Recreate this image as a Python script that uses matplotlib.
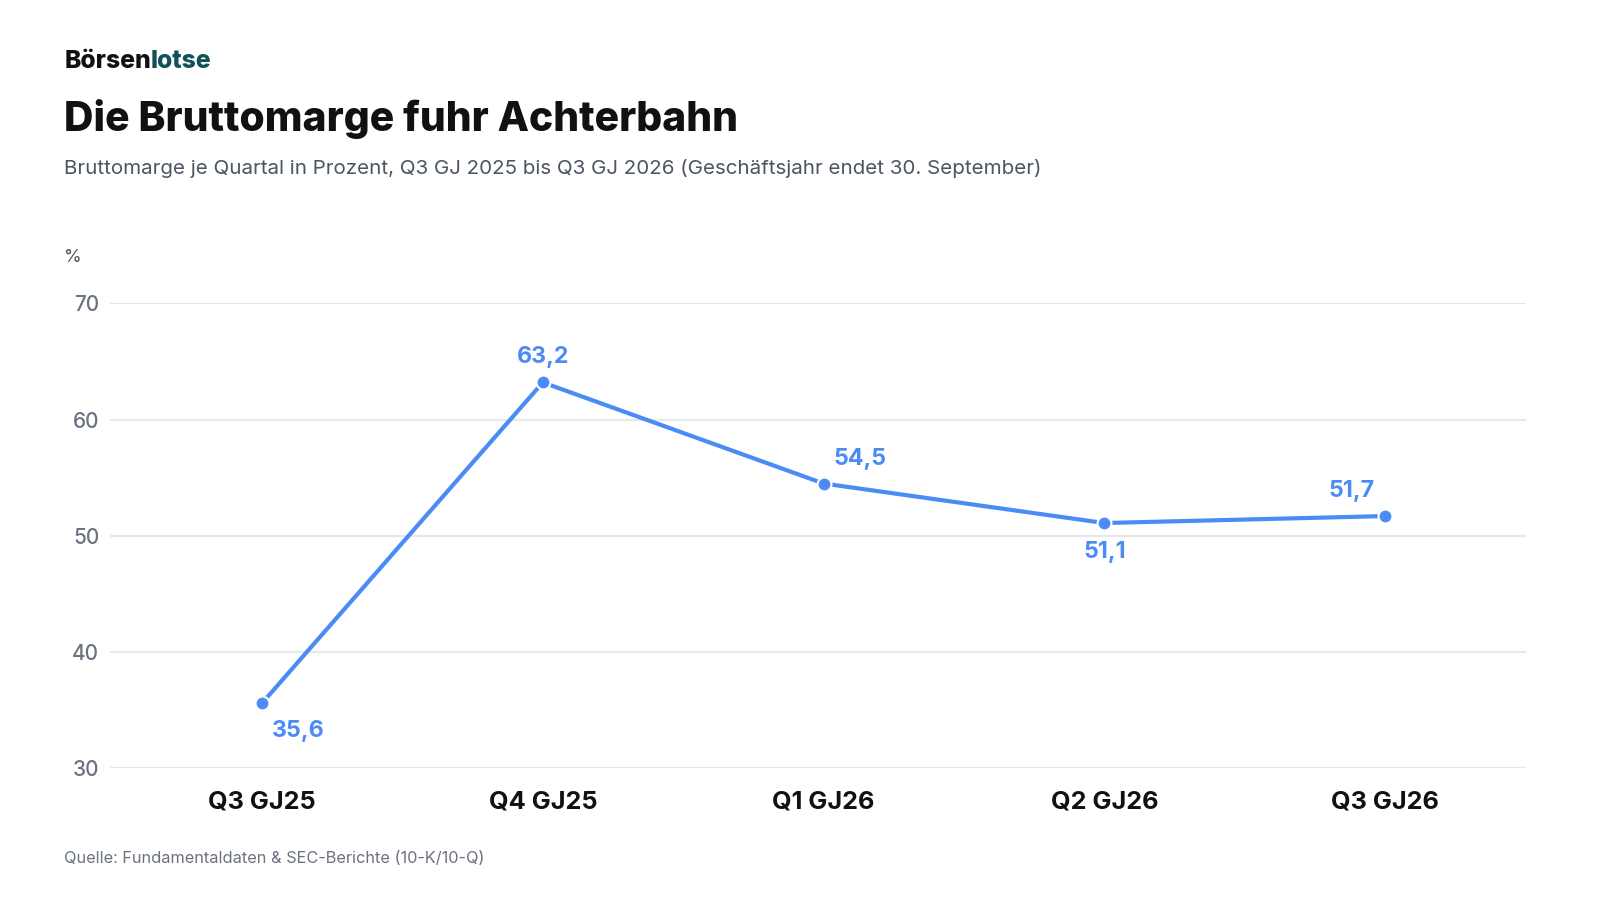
import matplotlib
matplotlib.use("Agg")
import matplotlib.pyplot as plt

# data
quarters = ["Q3 GJ25", "Q4 GJ25", "Q1 GJ26", "Q2 GJ26", "Q3 GJ26"]
margin = [35.6, 63.2, 54.5, 51.1, 51.7]
value_labels = ["35,6", "63,2", "54,5", "51,1", "51,7"]
y_ticks = [30, 40, 50, 60, 70]

# label offsets (dx, dy in points)
offsets = [(26, -20), (0, 18), (26, 18), (0, -21), (-24, 18)]

blue = "#4B8BF5"
plt.rcParams['font.family'] = ['Inter', 'DejaVu Sans']

fig = plt.figure(figsize=(16, 9), dpi=100)
fig.patch.set_facecolor("white")
ax = fig.add_axes([0.069, 0.1464, 0.8845, 0.5165])

x = list(range(len(quarters)))
ax.plot(x, margin, color=blue, lw=3, zorder=3,
        marker="o", ms=10, mfc=blue, mec="white", mew=1.5)

for i, (v, lab) in enumerate(zip(margin, value_labels)):
    dx, dy = offsets[i]
    ax.annotate(lab, (i, v), xytext=(dx, dy), textcoords="offset points",
                ha="center", va="center", color=blue, fontsize=16.7,
                fontweight="bold", zorder=4)

ax.set_ylim(30, 70)
ax.set_xlim(-0.54, 4.5)
ax.set_yticks(y_ticks)
ax.set_yticklabels([str(t) for t in y_ticks], color="#6B7280", fontsize=15,
                   fontweight="medium")
ax.set_xticks(x)
ax.set_xticklabels(quarters, fontsize=18.2, fontweight="bold", color="#111111")
ax.tick_params(axis="y", length=0, pad=8)
ax.tick_params(axis="x", length=0, pad=16)
ax.grid(axis="y", color="#E5E7EB", lw=1.5, zorder=0)
for s in ax.spines.values():
    s.set_visible(False)

# header: brand name in two colours
t1 = fig.text(0.0402, 1-0.0681, "Börsen", fontsize=17.8, fontweight=800,
              color="#111111", va="center", ha="left")
fig.canvas.draw()
bb = t1.get_window_extent()
fig.text(bb.x1 / fig.bbox.width, 1-0.0681, "lotse", fontsize=17.8, fontweight=800,
         color="#0F5257", va="center", ha="left")

fig.text(0.0402, 1-0.1317, "Die Bruttomarge fuhr Achterbahn", fontsize=29.4,
         fontweight=800, color="#111111", va="center", ha="left")
fig.text(0.0402, 1-0.1873,
         "Bruttomarge je Quartal in Prozent, Q3 GJ 2025 bis Q3 GJ 2026 (Geschäftsjahr endet 30. September)",
         fontsize=14.8, color="#4B5563", va="center", ha="left")
fig.text(0.0402, 1-0.286, "%", fontsize=13, color="#4B5563",
         va="center", ha="left")
fig.text(0.0402, 1-0.9535, "Quelle: Fundamentaldaten & SEC-Berichte (10-K/10-Q)",
         fontsize=11.75, color="#6B7280", va="center", ha="left")

fig.savefig("out.png", dpi=100, facecolor="white")
